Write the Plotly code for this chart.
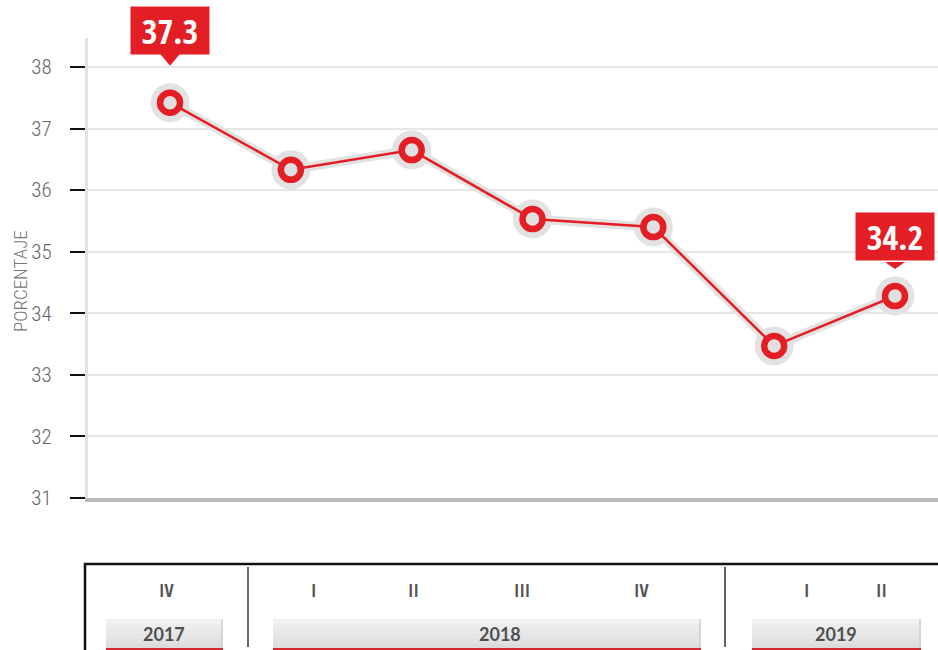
import plotly.graph_objects as go

# ---- data ----
quarters = ["IV", "I", "II", "III", "IV", "I", "II"]
years = ["2017", "2018", "2018", "2018", "2018", "2019", "2019"]
values = [37.42, 36.33, 36.65, 35.53, 35.40, 33.47, 34.28]
callout_index = [0, 6]
callout_text = ["37.3", "34.2"]
year_labels = ["2017", "2018", "2019"]
y_ticks = [31, 32, 33, 34, 35, 36, 37, 38]
y_title = "PORCENTAJE"

# ---- layout geometry (pixels) ----
W, H = 938, 650
L, R, T, B = 88, 0, 38, 152
PW, PH = W - L - R, H - T - B


def px(x):
    return (x - L) / PW


def py(y):
    return (H - B - y) / PH


RED = "#e31e25"
HALO = "#e2e2e2"
COND = "Roboto Condensed, sans-serif"
COND_B = "Open Sans Condensed, Roboto Condensed, sans-serif"

xs = list(range(len(values)))

fig = go.Figure()
# halo line + halo circles
fig.add_trace(go.Scatter(x=xs, y=values, mode="lines+markers",
                         line=dict(color=HALO, width=9),
                         marker=dict(size=39, color=HALO),
                         hoverinfo="skip", showlegend=False))
# red line
fig.add_trace(go.Scatter(x=xs, y=values, mode="lines",
                         line=dict(color=RED, width=2.5),
                         hoverinfo="skip", showlegend=False))
# red ring markers
fig.add_trace(go.Scatter(x=xs, y=values, mode="markers",
                         marker=dict(size=20, color="#e0e0e0",
                                     line=dict(color=RED, width=6.5)),
                         showlegend=False))

shapes = []
annotations = []

# callouts
callout_shift = [72.5, 60]
tri_base = [49, 34]
tri_tip = [37, 27]
for k, idx in enumerate(callout_index):
    annotations.append(dict(x=idx, y=values[idx], xref="x", yref="y",
                            yshift=callout_shift[k], showarrow=False,
                            text="<b>%s</b>" % callout_text[k],
                            font=dict(family=COND_B, size=34, color="white"),
                            bgcolor=RED, width=78, height=47, borderpad=0))
    shapes.append(dict(type="path", xref="x", yref="y",
                       xsizemode="pixel", ysizemode="pixel",
                       xanchor=idx, yanchor=values[idx],
                       path="M -10,%g L 10,%g L 0,%g Z" % (tri_base[k], tri_base[k], tri_tip[k]),
                       fillcolor=RED, line=dict(width=0)))

# bottom table frame
shapes.append(dict(type="line", xref="paper", yref="paper",
                   x0=px(84), x1=px(940), y0=py(564), y1=py(564),
                   line=dict(color="#111", width=2.5)))
shapes.append(dict(type="line", xref="paper", yref="paper",
                   x0=px(85), x1=px(85), y0=py(563), y1=py(652),
                   line=dict(color="#111", width=2.5)))
for sx in [248, 725]:
    shapes.append(dict(type="line", xref="paper", yref="paper",
                       x0=px(sx), x1=px(sx), y0=py(567), y1=py(647),
                       line=dict(color="#333", width=1.5)))

# year boxes (vertical gradient imitated with bands)
year_boxes = [(106, 223), (273, 701), (752, 921)]
year_text_x = [164, 500, 836]
band_colors = ["#f1f1f1", "#ededed", "#e9e9e9", "#e5e5e5", "#e1e1e1", "#dcdcdc"]
box_top, box_bot = 619, 649
band_h = (box_bot - box_top) / len(band_colors)
for (bx0, bx1), tx, lab in zip(year_boxes, year_text_x, year_labels):
    for j, c in enumerate(band_colors):
        shapes.append(dict(type="rect", xref="paper", yref="paper",
                           x0=px(bx0), x1=px(bx1),
                           y0=py(box_top + j * band_h), y1=py(box_top + (j + 1) * band_h + 0.5),
                           fillcolor=c, line=dict(width=0), layer="above"))
    shapes.append(dict(type="line", xref="paper", yref="paper",
                       x0=px(bx1 - 1), x1=px(bx1 - 1), y0=py(box_top), y1=py(box_bot),
                       line=dict(color="#cfcfcf", width=1.5), layer="above"))
    shapes.append(dict(type="line", xref="paper", yref="paper",
                       x0=px(bx0), x1=px(bx1), y0=py(649), y1=py(649),
                       line=dict(color="#d42a2f", width=2), layer="above"))
    annotations.append(dict(x=px(tx), y=py(634), xref="paper", yref="paper",
                            xanchor="center", yanchor="middle",
                            text="<b>%s</b>" % lab, showarrow=False,
                            font=dict(family="Lato, sans-serif", size=18, color="#505050")))

# quarter labels
quarter_xshift = [-4, 23, 2, -11, -12, 32, -13]
for i, q in enumerate(quarters):
    annotations.append(dict(x=i, y=py(590), xref="x", yref="paper",
                            xanchor="center", yanchor="middle",
                            xshift=quarter_xshift[i],
                            text="<b>%s</b>" % q, showarrow=False,
                            font=dict(family=COND_B, size=18, color="#555")))

# y title
annotations.append(dict(x=px(20), y=py(281), xref="paper", yref="paper",
                        xanchor="center", yanchor="middle",
                        text=y_title, textangle=-90, showarrow=False,
                        font=dict(family=COND, size=19, color="#777", weight=300)))

fig.update_layout(
    width=W, height=H,
    margin=dict(l=L, r=R, t=T, b=B, pad=0),
    paper_bgcolor="white", plot_bgcolor="white",
    showlegend=False,
    shapes=shapes, annotations=annotations,
    xaxis=dict(range=[-0.679, 6.356], showgrid=False, zeroline=False,
               showticklabels=False, ticks="", showline=True,
               linecolor="#bbbbbb", linewidth=4, fixedrange=True),
    yaxis=dict(range=[31, 38.47], tickvals=y_ticks, showgrid=True,
               gridcolor="#e6e6e6", gridwidth=2, zeroline=False,
               showline=True, linecolor="#e2e2e2", linewidth=3,
               ticks="outside", ticklen=15, tickwidth=2, tickcolor="#111",
               ticklabelstandoff=14,
               tickfont=dict(family=COND, size=21, color="#666", weight=300),
               fixedrange=True),
)

fig.write_html("out.html", config={"displayModeBar": False},
               post_script="document.body.style.margin='0';")
